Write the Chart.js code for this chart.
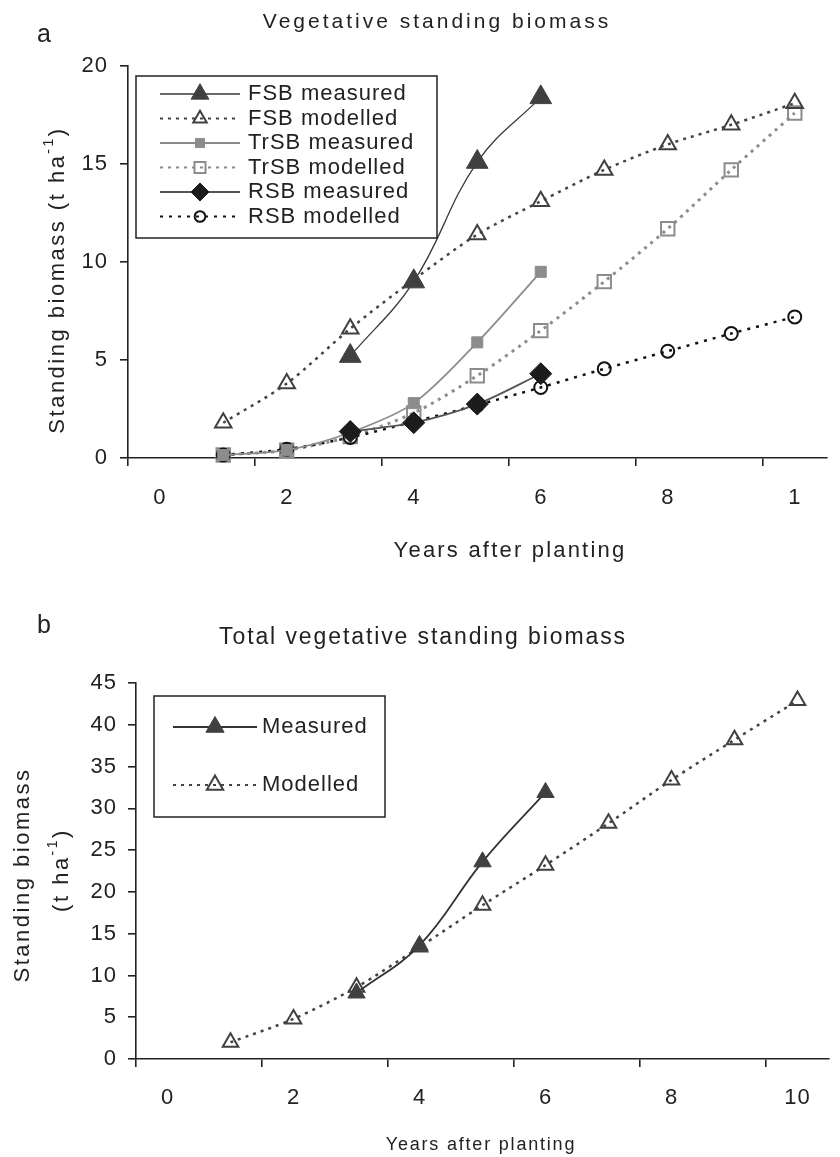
<!DOCTYPE html>
<html>
<head>
<meta charset="utf-8">
<title>Vegetative standing biomass</title>
<script src="https://cdn.jsdelivr.net/npm/chart.js@4.4.1/dist/chart.umd.min.js"></script>
<style>
  html, body { margin: 0; padding: 0; background: #fff; overflow: hidden; }
  .panel { position: absolute; left: 0; width: 840px; }
  #panel-a { top: 0; height: 575px; }
  #panel-b { top: 575px; height: 582px; }
</style>
</head>
<body>
<div class="panel" id="panel-a"><canvas id="chartA"></canvas></div>
<div class="panel" id="panel-b"><canvas id="chartB"></canvas></div>
<script>
// years after planting
const years = [1, 2, 3, 4, 5, 6, 7, 8, 9, 10];

// panel a: standing biomass per compartment (t/ha)
const fsbMeasured  = [null, null, 5.2, 9.0, 15.1, 18.4, null, null, null, null];
const fsbModelled  = [1.8, 3.8, 6.6, 9.1, 11.4, 13.1, 14.7, 16.0, 17.0, 18.1];
const trsbMeasured = [0.15, 0.4, 1.3, 2.8, 5.9, 9.5, null, null, null, null];
const trsbModelled = [0.15, 0.4, 1.1, 2.3, 4.2, 6.5, 9.0, 11.7, 14.7, 17.6];
const rsbMeasured  = [null, null, 1.35, 1.8, 2.75, 4.3, null, null, null, null];
const rsbModelled  = [0.15, 0.45, 1.05, 1.85, 2.7, 3.6, 4.55, 5.45, 6.35, 7.2];

// panel b: total standing biomass (t/ha)
const totalMeasured = [null, null, 7.9, 13.6, 23.6, 31.9, null, null, null, null];
const totalModelled = [2.0, 4.8, 8.6, 13.4, 18.4, 23.2, 28.2, 33.4, 38.2, 42.9];

const seriesNamesA = ['FSB measured', 'FSB modelled', 'TrSB measured', 'TrSB modelled', 'RSB measured', 'RSB modelled'];
const seriesNamesB = ['Measured', 'Modelled'];

// x axis labels sit on even years, tick marks half a year before them
const xLabelValues = [0, 2, 4, 6, 8, 10];
const xTickLabelsA = ['0', '2', '4', '6', '8', '1'];
const xTickLabelsB = ['0', '2', '4', '6', '8', '10'];
const yMaxA = 20;
const yMaxB = 45;
const yStep = 5;

const FONT = '"Liberation Sans", Arial, Helvetica, sans-serif';
const INK = '#222';
const NONE = 'rgba(0,0,0,0)';

Chart.defaults.font.family = FONT;
Chart.defaults.color = INK;

function toPoints(values) {
  return years.map((x, i) => ({ x: x, y: values[i] })).filter(p => p.y !== null);
}

function series(label, values, style) {
  return Object.assign({ label: label, data: toPoints(values), clip: false, fill: false }, style);
}

// slightly wide lettering for the tick numbers
const spacing = {
  id: 'spacing',
  beforeDraw(chart) {
    chart.ctx.letterSpacing = '1px';
  }
};

// panel letter, titles and axis titles; parts marked sup are raised
const captions = {
  id: 'captions',
  afterDraw(chart, args, opts) {
    const ctx = chart.ctx;
    (opts.items || []).forEach(item => {
      const parts = item.parts || [{ text: item.text }];
      const fontFor = p => (p.sup ? Math.round(item.size * 0.62) : item.size) + 'px ' + FONT;
      ctx.save();
      ctx.fillStyle = INK;
      ctx.letterSpacing = (item.spacing || 0) + 'px';
      ctx.textBaseline = item.baseline || 'alphabetic';
      ctx.textAlign = 'left';
      let width = 0;
      parts.forEach(p => {
        ctx.font = fontFor(p);
        width += ctx.measureText(p.text).width;
      });
      ctx.translate(item.x, item.y);
      if (item.rotate) ctx.rotate(item.rotate * Math.PI / 180);
      let x = item.align === 'left' ? 0 : -width / 2;
      parts.forEach(p => {
        ctx.font = fontFor(p);
        ctx.fillText(p.text, x, p.sup ? -item.size * 0.4 : 0);
        x += ctx.measureText(p.text).width;
      });
      ctx.restore();
    });
  }
};

// boxed legend with a line sample and marker for each series
const lineLegend = {
  id: 'lineLegend',
  afterDraw(chart, args, opts) {
    const ctx = chart.ctx;
    const b = opts.box;
    ctx.save();
    ctx.fillStyle = '#fff';
    ctx.fillRect(b.left, b.top, b.right - b.left, b.bottom - b.top);
    ctx.strokeStyle = INK;
    ctx.lineWidth = 1.5;
    ctx.strokeRect(b.left, b.top, b.right - b.left, b.bottom - b.top);
    const mid = (opts.lineFrom + opts.lineTo) / 2;
    chart.data.datasets.forEach((ds, i) => {
      const y = opts.rows[i];
      ctx.setLineDash(ds.borderDash || []);
      ctx.strokeStyle = ds.borderColor;
      ctx.lineWidth = ds.borderDash ? Math.min(ds.borderWidth, 2) : ds.borderWidth;
      ctx.beginPath();
      ctx.moveTo(opts.lineFrom, y);
      ctx.lineTo(opts.lineTo, y);
      ctx.stroke();
      ctx.setLineDash([]);
      ctx.fillStyle = ds.pointBackgroundColor;
      ctx.strokeStyle = ds.pointBorderColor;
      ctx.lineWidth = ds.pointBorderWidth;
      Chart.helpers.drawPoint(ctx, {
        pointStyle: ds.pointStyle,
        radius: ds.pointRadius * opts.markerScale,
        rotation: 0,
        borderWidth: ds.pointBorderWidth
      }, mid, y);
      ctx.fillStyle = INK;
      ctx.font = opts.fontSize + 'px ' + FONT;
      ctx.letterSpacing = '1px';
      ctx.textAlign = 'left';
      ctx.textBaseline = 'middle';
      ctx.fillText(ds.label, opts.textX, y);
    });
    ctx.restore();
  }
};

function makeOptions(cfg) {
  return {
    responsive: true,
    maintainAspectRatio: false,
    animation: false,
    layout: { padding: cfg.padding },
    elements: { line: { borderCapStyle: 'butt' } },
    scales: {
      x: {
        type: 'linear',
        min: -0.5,
        max: 10.5,
        afterBuildTicks: axis => {
          axis.ticks = xLabelValues.flatMap(v => [{ value: v - 0.5 }, { value: v }]);
        },
        afterFit: axis => { axis.height = cfg.xHeight; },
        grid: {
          drawOnChartArea: false,
          tickLength: 8,
          lineWidth: 1.6,
          tickColor: c => (c.tick && xLabelValues.includes(c.tick.value) ? NONE : INK)
        },
        border: { color: INK, width: 1.6 },
        ticks: {
          autoSkip: false,
          maxRotation: 0,
          padding: cfg.xPad,
          color: INK,
          font: { size: 22 },
          callback: v => {
            const i = xLabelValues.indexOf(v);
            return i < 0 ? '' : cfg.xLabels[i];
          }
        }
      },
      y: {
        min: 0,
        max: cfg.yMax,
        afterFit: axis => { axis.width = cfg.yWidth; },
        grid: { drawOnChartArea: false, tickLength: 8, lineWidth: 1.6, tickColor: INK },
        border: { color: INK, width: 1.6 },
        ticks: { stepSize: yStep, padding: cfg.yPad, color: INK, font: { size: 22 } }
      }
    },
    plugins: {
      legend: { display: false },
      tooltip: { enabled: false },
      captions: { items: cfg.captions },
      lineLegend: cfg.legend
    }
  };
}

const chartA = new Chart(document.getElementById('chartA'), {
  type: 'line',
  data: {
    datasets: [
      series(seriesNamesA[0], fsbMeasured, {
        borderColor: '#3a3a3a', borderWidth: 1.3, tension: 0.4, order: 1,
        pointStyle: 'triangle', pointRadius: 12.5, pointBackgroundColor: '#404040',
        pointBorderColor: '#404040', pointBorderWidth: 1
      }),
      series(seriesNamesA[1], fsbModelled, {
        borderColor: '#444', borderWidth: 2.5, borderDash: [3, 5], tension: 0.3, order: 4,
        pointStyle: 'triangle', pointRadius: 9.5, pointBackgroundColor: NONE,
        pointBorderColor: '#404040', pointBorderWidth: 2
      }),
      series(seriesNamesA[2], trsbMeasured, {
        borderColor: '#8c8c8c', borderWidth: 1.8, tension: 0.3, order: 2,
        pointStyle: 'rect', pointRadius: 7.8, pointBackgroundColor: '#8c8c8c',
        pointBorderColor: '#8c8c8c', pointBorderWidth: 1
      }),
      series(seriesNamesA[3], trsbModelled, {
        borderColor: '#8c8c8c', borderWidth: 3, borderDash: [3, 5], tension: 0.3, order: 5,
        pointStyle: 'rect', pointRadius: 9.5, pointBackgroundColor: NONE,
        pointBorderColor: '#8c8c8c', pointBorderWidth: 2
      }),
      series(seriesNamesA[4], rsbMeasured, {
        borderColor: '#555', borderWidth: 1.8, tension: 0.3, order: 0,
        pointStyle: 'rectRot', pointRadius: 11, pointBackgroundColor: '#1c1c1c',
        pointBorderColor: '#1c1c1c', pointBorderWidth: 1
      }),
      series(seriesNamesA[5], rsbModelled, {
        borderColor: '#111', borderWidth: 2.5, borderDash: [3, 6], tension: 0.3, order: 3,
        pointStyle: 'circle', pointRadius: 6.5, pointBackgroundColor: NONE,
        pointBorderColor: '#111', pointBorderWidth: 2
      })
    ]
  },
  options: makeOptions({
    padding: { top: 66, right: 0, bottom: 0, left: 0 },
    xHeight: 117, yWidth: 128, xPad: 19, yPad: 12,
    yMax: yMaxA, xLabels: xTickLabelsA,
    captions: [
      { text: 'a', x: 37, y: 42, size: 25, align: 'left' },
      { text: 'Vegetative standing biomass', x: 437, y: 28, size: 21, spacing: 3 },
      { parts: [{ text: 'Standing biomass (t ha' }, { text: '-1', sup: true }, { text: ')' }],
        x: 58, y: 280, size: 22, spacing: 2.5, rotate: -90, baseline: 'middle' },
      { text: 'Years after planting', x: 510, y: 557, size: 22, spacing: 2.2 }
    ],
    legend: {
      box: { left: 136, top: 76, right: 437, bottom: 238 },
      rows: [94, 118.5, 143, 167.5, 192, 216.5],
      lineFrom: 160, lineTo: 240, textX: 248, fontSize: 22, markerScale: 0.82
    }
  }),
  plugins: [spacing, captions, lineLegend]
});

const chartB = new Chart(document.getElementById('chartB'), {
  type: 'line',
  data: {
    datasets: [
      series(seriesNamesB[0], totalMeasured, {
        borderColor: '#333', borderWidth: 1.8, tension: 0.4, order: 0,
        pointStyle: 'triangle', pointRadius: 10, pointBackgroundColor: '#404040',
        pointBorderColor: '#404040', pointBorderWidth: 1
      }),
      series(seriesNamesB[1], totalModelled, {
        borderColor: '#444', borderWidth: 2.5, borderDash: [3, 5], tension: 0.3, order: 1,
        pointStyle: 'triangle', pointRadius: 9, pointBackgroundColor: NONE,
        pointBorderColor: '#404040', pointBorderWidth: 2
      })
    ]
  },
  options: makeOptions({
    padding: { top: 108, right: 5, bottom: 0, left: 0 },
    xHeight: 98, yWidth: 136, xPad: 18, yPad: 11,
    yMax: yMaxB, xLabels: xTickLabelsB,
    captions: [
      { text: 'b', x: 37, y: 58, size: 25, align: 'left' },
      { text: 'Total vegetative standing biomass', x: 423, y: 69, size: 23, spacing: 1.9 },
      { text: 'Standing biomass', x: 23, y: 300, size: 22, spacing: 2.5, rotate: -90, baseline: 'middle' },
      { parts: [{ text: '(t ha' }, { text: '-1', sup: true }, { text: ')' }],
        x: 62, y: 295, size: 22, spacing: 2.5, rotate: -90, baseline: 'middle' },
      { text: 'Years after planting', x: 481, y: 575, size: 18, spacing: 1.8 }
    ],
    legend: {
      box: { left: 154, top: 121, right: 385, bottom: 242 },
      rows: [152, 210],
      lineFrom: 173, lineTo: 257, textX: 262, fontSize: 22, markerScale: 1.05
    }
  }),
  plugins: [spacing, captions, lineLegend]
});
</script>
</body>
</html>
